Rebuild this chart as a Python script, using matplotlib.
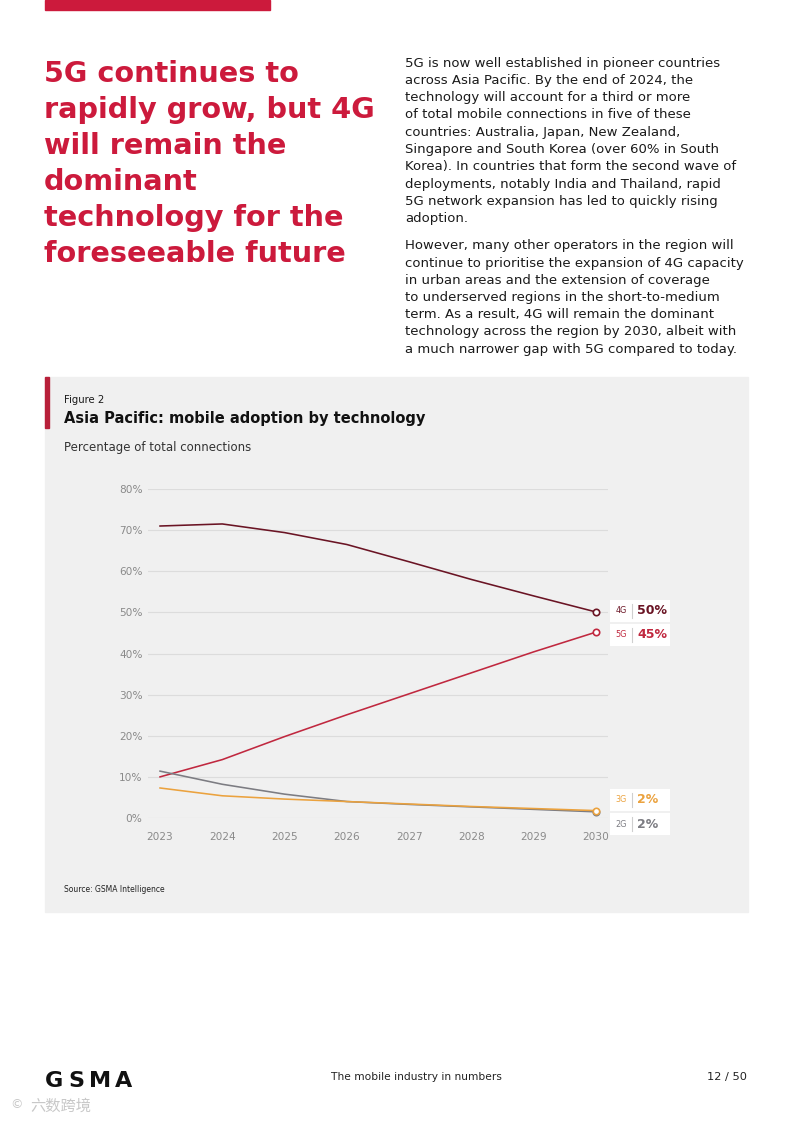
import matplotlib.pyplot as plt
from matplotlib.patches import Rectangle
from matplotlib.lines import Line2D

# ----- data -----
years = [2023, 2024, 2025, 2026, 2027, 2028, 2029, 2030]
share_4g = [71.0, 71.5, 69.4, 66.5, 62.3, 58.0, 54.0, 50.1]
share_5g = [10.0, 14.2, 19.8, 25.1, 30.2, 35.3, 40.4, 45.2]
share_3g = [7.3, 5.4, 4.6, 4.0, 3.4, 2.8, 2.3, 1.8]
share_2g = [11.4, 8.2, 5.8, 4.0, 3.3, 2.7, 2.1, 1.5]
techs = ['4G', '5G', '3G', '2G']
end_labels = ['50%', '45%', '2%', '2%']
y_ticks = [0, 10, 20, 30, 40, 50, 60, 70, 80]

RED = '#cc1a3c'
C4G = '#6a1424'
C5G = '#c0283f'
C3G = '#eba23e'
C2G = '#7c7c82'
PANEL = '#f0f0f0'
FONT = 'DejaVu Sans'

W, H = 793, 1122
fig = plt.figure(figsize=(W / 100, H / 100), dpi=100)
fig.patch.set_facecolor('white')

def px(x, y):
    # page pixel -> figure fraction
    return x / W, 1 - y / H

def txt(x, y, s, **kw):
    fx, fy = px(x, y)
    kw.setdefault('family', FONT)
    fig.text(fx, fy, s, **kw)

def rect(x0, y0, x1, y1, color):
    fx, fy = px(x0, y1)
    fig.patches.append(Rectangle((fx, fy), (x1 - x0) / W, (y1 - y0) / H,
                                 transform=fig.transFigure, color=color, zorder=-5))

# top red bar
rect(45, 0, 270, 10, RED)

# ----- headline -----
title_lines = ['5G continues to', 'rapidly grow, but 4G', 'will remain the',
               'dominant', 'technology for the', 'foreseeable future']
for i, line in enumerate(title_lines):
    txt(44, 82 + 36 * i, line, color=RED, fontsize=20.7, fontweight='bold',
        va='baseline', ha='left')

# ----- body text -----
para1 = ['5G is now well established in pioneer countries',
         'across Asia Pacific. By the end of 2024, the',
         'technology will account for a third or more',
         'of total mobile connections in five of these',
         'countries: Australia, Japan, New Zealand,',
         'Singapore and South Korea (over 60% in South',
         'Korea). In countries that form the second wave of',
         'deployments, notably India and Thailand, rapid',
         '5G network expansion has led to quickly rising',
         'adoption.']
para2 = ['However, many other operators in the region will',
         'continue to prioritise the expansion of 4G capacity',
         'in urban areas and the extension of coverage',
         'to underserved regions in the short-to-medium',
         'term. As a result, 4G will remain the dominant',
         'technology across the region by 2030, albeit with',
         'a much narrower gap with 5G compared to today.']
for i, line in enumerate(para1):
    txt(405, 63 + 17.3 * i, line, color='#1a1a1a', fontsize=9.55,
        va='center', ha='left')
for i, line in enumerate(para2):
    txt(405, 246 + 17.2 * i, line, color='#1a1a1a', fontsize=9.55,
        va='center', ha='left')

# ----- chart panel -----
rect(45, 377, 748, 912, PANEL)
rect(45, 377, 49, 428, '#b8203a')
txt(64, 400, 'Figure 2', fontsize=7.3, color='#1a1a1a', va='center')
txt(64, 418, 'Asia Pacific: mobile adoption by technology', fontsize=10.5,
    fontweight='bold', color='#111111', va='center')
txt(64, 447, 'Percentage of total connections', fontsize=8.5, color='#333333',
    va='center')
txt(64, 890, 'Source: GSMA Intelligence', fontsize=5.5, color='#222222',
    va='center')

ax = fig.add_axes([148 / W, 1 - 818 / H, 460 / W, 329 / H])
ax.set_zorder(2)
ax.patch.set_alpha(0)
for s in ax.spines.values():
    s.set_visible(False)
ax.set_xlim(2022.807, 2030.193)
ax.set_ylim(0, 80)
ax.set_yticks(y_ticks)
ax.set_yticklabels([f'{t}%' for t in y_ticks])
ax.set_xticks(years)
ax.set_xticklabels([str(y) for y in years])
ax.grid(axis='y', color='#dcdcdc', linewidth=0.8)
ax.set_axisbelow(True)
ax.tick_params(length=0, labelsize=7.6, labelcolor='#8a8a8a')
ax.tick_params(axis='y', pad=4)
ax.tick_params(axis='x', pad=10)
for lab in ax.get_xticklabels() + ax.get_yticklabels():
    lab.set_family(FONT)

series = [(share_4g, C4G), (share_5g, C5G), (share_2g, C2G), (share_3g, C3G)]
for vals, col in series:
    ax.plot(years, vals, color=col, linewidth=1.15, clip_on=False, zorder=3)
for vals, col in series:
    ax.plot(years[-1], vals[-1], marker='o', markersize=4.6, markerfacecolor='white',
            markeredgecolor=col, markeredgewidth=1.2, clip_on=False, zorder=4)

# end labels (boxes offset to avoid overlap)
label_y = [50.4, 44.5, 4.4, -1.5]
label_col = [C4G, C5G, C3G, C2G]
tr = ax.get_yaxis_transform()
box_h = 22 / (329 / 80)
for tech, lab, yy, col in zip(techs, end_labels, label_y, label_col):
    ax.add_patch(Rectangle((1.0043, yy - box_h / 2), 0.1305, box_h, transform=tr,
                           facecolor='white', edgecolor='none', clip_on=False, zorder=2))
    ax.add_line(Line2D([1.0522, 1.0522], [yy - box_h * 0.32, yy + box_h * 0.32],
                       transform=tr, color='#cfcfcf', linewidth=0.8, clip_on=False))
    ax.text(1.0283, yy, tech, transform=tr, ha='center', va='center', fontsize=5.8,
            color=col, family=FONT)
    ax.text(1.063, yy, lab, transform=tr, ha='left', va='center', fontsize=9.0,
            color=col, family=FONT, fontweight='bold')

# ----- footer -----
for ch, xl in zip('GSMA', [45, 68, 89, 115]):
    txt(xl, 1087, ch, fontsize=16, fontweight='bold', color='#111111',
        va='baseline')
txt(416, 1077, 'The mobile industry in numbers', fontsize=7.7, color='#222222',
    va='center', ha='center')
txt(747, 1077, '12 / 50', fontsize=8.2, color='#222222',
    va='center', ha='right')
txt(10, 1105, '©', fontsize=9, color='#c8c8c8', va='center')
txt(30, 1106, '六数跨境', fontsize=11, color='#c8c8c8',
    family=['Noto Sans CJK SC', 'DejaVu Sans'], va='center')

fig.savefig('out.png', dpi=100)
